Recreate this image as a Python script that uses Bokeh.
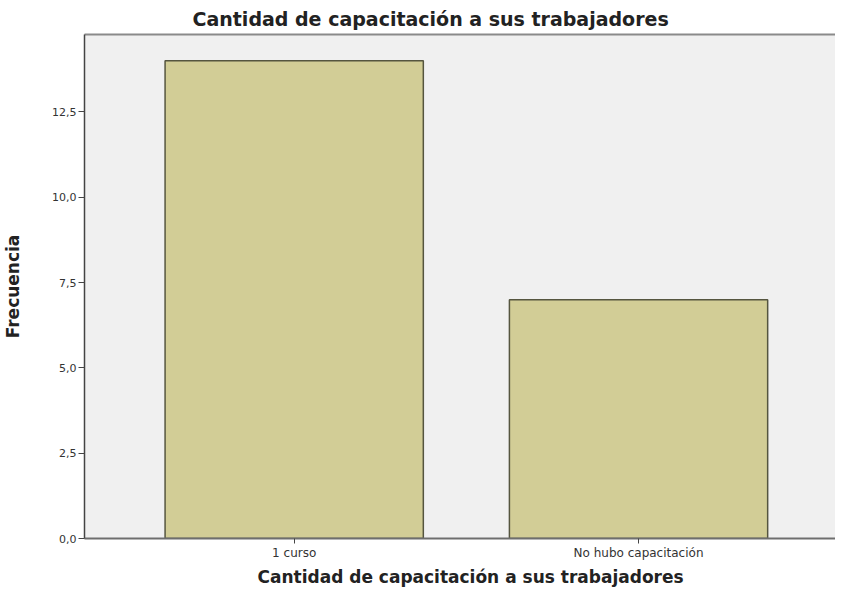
from bokeh.plotting import figure
from bokeh.models import Range1d, FixedTicker, LinearAxis, ColumnDataSource, Title
from bokeh.embed import file_html
from bokeh.resources import INLINE

# ---- data ----
categories = ["1 curso", "No hubo capacitación"]
frecuencia = [14, 7]
y_ticks = [0, 2.5, 5, 7.5, 10, 12.5]
y_tick_labels = ["0,0", "2,5", "5,0", "7,5", "10,0", "12,5"]
title_text = "Cantidad de capacitación a sus trabajadores"
x_label = "Cantidad de capacitación a sus trabajadores"
y_label = "Frecuencia"

x_pos = list(range(1, len(categories) + 1))
source = ColumnDataSource(dict(x=x_pos, top=frecuencia, cat=categories))

p = figure(width=835, height=588, output_backend="svg", toolbar_location=None,
           x_range=Range1d(0.391, 2.572), y_range=Range1d(0, 14.77),
           min_border_left=0, min_border_right=0, min_border_top=0, min_border_bottom=0)

p.title.text = title_text
p.title.align = "left"
p.title.offset = 108
p.title.text_font = "DejaVu Sans"
p.title.text_font_size = "19px"
p.title.text_font_style = "bold"
p.title.text_color = "#222222"
p.title.standoff = 10

p.background_fill_color = "#f0f0f0"
p.border_fill_color = "white"
p.outline_line_color = None
p.xgrid.visible = False
p.ygrid.visible = False

p.vbar(x="x", top="top", width=0.75, source=source,
       fill_color="#d2cd96", line_color="#55553f", line_width=1.5)

xa = p.below[0]
ya = p.left[0]

# top border via an empty axis above
top_axis = LinearAxis(ticker=FixedTicker(ticks=[]), axis_line_color="#8a8a8a", axis_line_width=2,
                      major_tick_out=0, major_tick_in=0, minor_tick_out=0, minor_tick_in=0,
                      major_label_standoff=0, major_label_text_font_size="0px")
p.add_layout(top_axis, "above")

# x axis
xa.ticker = FixedTicker(ticks=x_pos)
xa.major_label_overrides = {x: c for x, c in zip(x_pos, categories)}
xa.major_label_text_font = "DejaVu Sans"
xa.major_label_text_font_size = "12px"
xa.major_label_text_color = "#333333"
xa.major_label_standoff = 2
xa.major_tick_out = 5
xa.major_tick_in = 0
xa.minor_tick_line_color = None
xa.major_tick_line_color = "#444444"
xa.axis_line_color = "#6e6e6e"
xa.axis_line_width = 2

# x axis title as a title below the axis
x_title = Title(text=x_label, align="left", offset=173, standoff=4,
                text_font="DejaVu Sans", text_font_size="17px", text_font_style="bold",
                text_color="#222222")
p.add_layout(x_title, "below")

# y axis
ya.ticker = FixedTicker(ticks=y_ticks)
ya.major_label_overrides = {t: l for t, l in zip(y_ticks, y_tick_labels)}
ya.axis_label = y_label
ya.axis_label_text_font = "DejaVu Sans"
ya.axis_label_text_font_size = "17px"
ya.axis_label_text_font_style = "bold"
ya.axis_label_text_color = "#222222"
ya.axis_label_standoff = 26
ya.major_label_text_font = "DejaVu Sans"
ya.major_label_text_font_size = "11px"
ya.major_label_text_color = "#333333"
ya.major_label_standoff = 2
ya.major_tick_out = 6
ya.major_tick_in = 0
ya.minor_tick_line_color = None
ya.major_tick_line_color = "#444444"
ya.axis_line_color = "#444444"
ya.axis_line_width = 1.5

open("out.html", "w").write(file_html(p, INLINE))
